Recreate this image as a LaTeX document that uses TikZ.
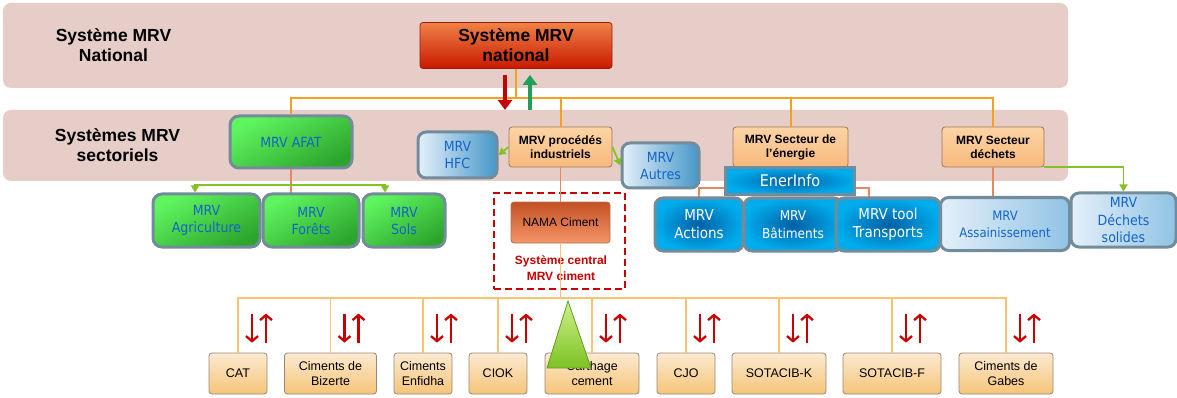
\documentclass[tikz,border=0pt]{standalone}
\usepackage{fontspec}
\setmainfont{Liberation Sans}
\newfontfamily\tahoma{DejaVu Sans Condensed}
\usepackage{xcolor}
\usepackage{tikz}
\usetikzlibrary{arrows.meta,calc}

\definecolor{fondbande}{RGB}{230,205,200}
\definecolor{orangefort}{RGB}{245,160,30}
\definecolor{orangeclair}{RGB}{250,195,110}
\definecolor{saumon}{RGB}{230,135,95}
\definecolor{vertfl}{RGB}{130,195,35}
\definecolor{vertmont}{RGB}{30,160,90}
\definecolor{rougefl}{RGB}{200,0,0}
\definecolor{bleutxt}{RGB}{20,100,200}
\definecolor{bordgris}{RGB}{115,140,155}
\definecolor{peche1}{RGB}{252,212,165}
\definecolor{peche2}{RGB}{247,185,125}
\definecolor{bordbrun}{RGB}{160,120,90}
\definecolor{vert1}{RGB}{95,245,95}
\definecolor{vert2}{RGB}{45,165,45}
\definecolor{pale1}{RGB}{228,240,250}
\definecolor{pale2}{RGB}{70,150,200}
\definecolor{pale3}{RGB}{145,195,228}
\definecolor{vif1}{RGB}{0,95,165}
\definecolor{vif2}{RGB}{0,172,236}
\definecolor{usine1}{RGB}{252,234,208}
\definecolor{usine2}{RGB}{246,196,120}
\definecolor{bordusine}{RGB}{150,135,120}
\definecolor{nat1}{RGB}{240,130,70}
\definecolor{nat2}{RGB}{200,25,0}
\definecolor{bordnat}{RGB}{150,30,10}
\definecolor{nama1}{RGB}{195,80,35}
\definecolor{nama2}{RGB}{245,150,105}
\definecolor{tri1}{RGB}{205,240,140}
\definecolor{tri2}{RGB}{125,195,35}

\begin{document}
\begin{tikzpicture}[x=1pt,y=-1pt,
  bande/.style={fill=fondbande,rounded corners=8pt},
  titre/.style={font=\fontsize{17.5}{20}\selectfont\bfseries,align=center},
  natbox/.style={draw=bordnat,line width=0.8pt,rounded corners=3pt,top color=nat1,bottom color=nat2,
    inner sep=0pt,align=center,font=\fontsize{17.5}{20}\selectfont\bfseries},
  peche/.style={draw=bordbrun,line width=0.8pt,rounded corners=3pt,top color=peche1,bottom color=peche2,
    minimum height=40pt,inner sep=0pt,align=center,font=\fontsize{12}{14}\selectfont\bfseries},
  boitevert/.style={draw=bordgris,line width=3pt,rounded corners=9pt,top color=vert1,bottom color=vert2,
    shading angle=30,inner sep=0pt,align=center,text=bleutxt,font=\tahoma\fontsize{14}{17}\selectfont},
  boitepale/.style={draw=bordgris,line width=3pt,rounded corners=8pt,left color=pale1,right color=pale2,
    inner sep=0pt,align=center,text=bleutxt,font=\tahoma\fontsize{14}{17}\selectfont},
  boitevive/.style={draw=bordgris,line width=3pt,rounded corners=8pt,inner color=vif1,outer color=vif2,
    inner sep=0pt,align=center,text=white,font=\tahoma\fontsize{15}{18}\selectfont},
  usine/.style={draw=bordusine,line width=0.8pt,rounded corners=3pt,top color=usine1,bottom color=usine2,
    minimum height=41pt,inner sep=0pt,align=center,font=\fontsize{12.5}{15}\selectfont},
  lien/.style={draw=orangefort,line width=2pt},
  lienbas/.style={draw=orangeclair,line width=1.5pt},
  lienfin/.style={draw=saumon,line width=1.2pt},
  flvert/.style={draw=vertfl,line width=1.8pt,-{Triangle[length=7pt,width=8pt]}},
  flrouge/.style={draw=rougefl,line width=2.3pt,-{Straight Barb[length=5pt,width=12pt]}}]
\useasboundingbox (0,0) rectangle (1177,398);

% bandes de fond
\fill[bande] (3,3) rectangle (1068,88);
\fill[bande] (3,110) rectangle (1068,181);
\node[titre] (lblnat) at (113.5,45) {Système MRV\\National};
\node[titre] (lblsect) at (117.5,145) {Systèmes MRV\\sectoriels};

% niveau national
\node[natbox,minimum width=192pt,minimum height=46pt] (national) at (516,45.5) {Système MRV\\national};

% niveau sectoriel
\node[boitevert,minimum width=122pt,minimum height=52pt] (afat) at (291,142) {MRV AFAT};
\node[peche,minimum width=103pt] (proc) at (560.5,147) {MRV procédés\\industriels};
\node[peche,minimum width=115pt] (energie) at (790.5,147) {MRV Secteur de\\l'énergie};
\node[peche,minimum width=102pt] (dechets) at (993,147) {MRV Secteur\\déchets};

\coordinate (bus1) at (0,98);
\draw[lien] (afat.north) |- (dechets.north |- bus1) -- (dechets.north);
\draw[lien] (national.south) -- (national.south |- bus1);
\draw[lien] (proc.north) -- (proc.north |- bus1);
\draw[lien] (energie.north) -- (energie.north |- bus1);

% remontee / descente des donnees
\draw[rougefl,line width=4pt,-{Triangle[length=10pt,width=14pt]}]
  ($(national.south)+(-11,6)$) -- ($(national.south)+(-11,41)$);
\draw[vertmont,line width=4pt,-{Triangle[length=10pt,width=14pt]}]
  ($(national.south)+(14,41)$) -- ($(national.south)+(14,6)$);

% AFAT
\draw[lienfin] (afat.south) -- ++(0,77);
\node[boitevert,minimum width=107pt,minimum height=53pt] (agri) at (206.5,220.5) {MRV\\Agriculture};
\node[boitevert,minimum width=96pt,minimum height=53pt] (forets) at (311,220.5) {MRV\\Forêts};
\node[boitevert,minimum width=82pt,minimum height=53pt] (sols) at (404,220.5) {MRV\\Sols};
\coordinate (ga) at (195,185);
\coordinate (gs) at (385,185);
\draw[flvert,{Triangle[length=7pt,width=8pt]}-{Triangle[length=7pt,width=8pt]}]
  (ga |- agri.north) |- (gs) -- (gs |- sols.north);

% procedes industriels
\node[boitepale,minimum width=79pt,minimum height=46pt] (hfc) at (457.5,155) {MRV\\HFC};
\node[boitepale,minimum width=77pt,minimum height=45pt] (autres) at (660.5,165.5) {MRV\\Autres};
\draw[flvert] (proc.west) -- (hfc.east);
\draw[flvert] (proc.east) -- (autres.west);

\coordinate (bus2) at (0,298);
\node[draw=rougefl,line width=2.5pt,dash pattern=on 7pt off 4pt,minimum width=131pt,minimum height=96pt]
  (cadre) at (559.5,241) {};
\node[draw=bordbrun,line width=0.8pt,rounded corners=3pt,top color=nama1,bottom color=nama2,
  minimum width=99pt,minimum height=41pt,font=\fontsize{12}{14}\selectfont] (nama) at (560.5,222.5) {NAMA Ciment};
\node[text=rougefl,align=center,font=\fontsize{12}{15.5}\selectfont\bfseries] (central) at (561,268) {Système central\\MRV ciment};
\draw[lienfin] (proc.south) -- (nama.north);
\draw[lienbas] (nama.south) -- (nama.south |- bus2);

% energie
\coordinate (ei) at (869,188);
\draw[lienfin] (699,198) |- (ei) -- (869,198);
\node[boitevive,minimum width=98pt,minimum height=53pt,font=\tahoma\fontsize{13.5}{18}\selectfont] (batiments) at (793,224.5) {MRV\\Bâtiments};
\node[boitevive,minimum width=88pt,minimum height=53pt] (actions) at (699,224.5) {MRV\\Actions};
\node[boitevive,minimum width=104pt,minimum height=53pt] (transports) at (888,224.5) {MRV tool\\Transports};
\node[draw=bordgris,line width=3pt,inner color=vif1,outer color=vif2,minimum width=129pt,minimum height=27pt,
  inner sep=0pt,text=white,font=\tahoma\fontsize{16}{18}\selectfont] (enerinfo) at (790,181) {EnerInfo};

% dechets
\draw[lienfin] (dechets.south) -- (dechets.south |- 0,198);
\node[boitepale,right color=pale3,minimum width=129pt,minimum height=53pt,font=\tahoma\fontsize{13}{17}\selectfont]
  (assain) at (1005,224) {MRV\\Assainissement};
\node[boitepale,right color=pale3,minimum width=105pt,minimum height=54pt,font=\tahoma\fontsize{14}{17.5}\selectfont]
  (dsolides) at (1123.5,220) {MRV\\Déchets\\solides};
\draw[flvert] (dechets.south east) -| (dsolides.north);

% cimenteries
\node[usine,minimum width=58pt] (cat) at (238,373.5) {CAT};
\node[usine,minimum width=92pt] (bizerte) at (330.5,373.5) {Ciments de\\Bizerte};
\node[usine,minimum width=58pt] (enfidha) at (423,373.5) {Ciments\\Enfidha};
\node[usine,minimum width=58pt] (ciok) at (498,373.5) {CIOK};
\node[usine,minimum width=94pt] (carthage) at (592,373.5) {Carthage\\cement};
\node[usine,minimum width=58pt] (cjo) at (686,373.5) {CJO};
\node[usine,minimum width=94pt] (sotacibk) at (779,373.5) {SOTACIB-K};
\node[usine,minimum width=98pt] (sotacibf) at (892,373.5) {SOTACIB-F};
\node[usine,minimum width=94pt] (gabes) at (1006,373.5) {Ciments de\\Gabes};

\draw[lienbas] (cat.north) |- (gabes.north |- bus2) -- (gabes.north);
\foreach \n in {bizerte,enfidha,ciok,carthage,cjo,sotacibk,sotacibf}
  \draw[lienbas] (\n.north) -- (\n.north |- bus2);
\foreach \n in {cat,bizerte,enfidha,ciok,carthage,cjo,sotacibk,sotacibf,gabes} {
  \draw[flrouge] ($(\n.north)+(14,-39)$) -- ($(\n.north)+(14,-10)$);
  \draw[flrouge] ($(\n.north)+(28,-10)$) -- ($(\n.north)+(28,-39)$);
}

% triangle
\draw[draw=tri2!80!black,line width=0.8pt,top color=tri1,bottom color=tri2]
  (568,301) -- (547,368) -- (591,368) -- cycle;
\end{tikzpicture}
\end{document}
